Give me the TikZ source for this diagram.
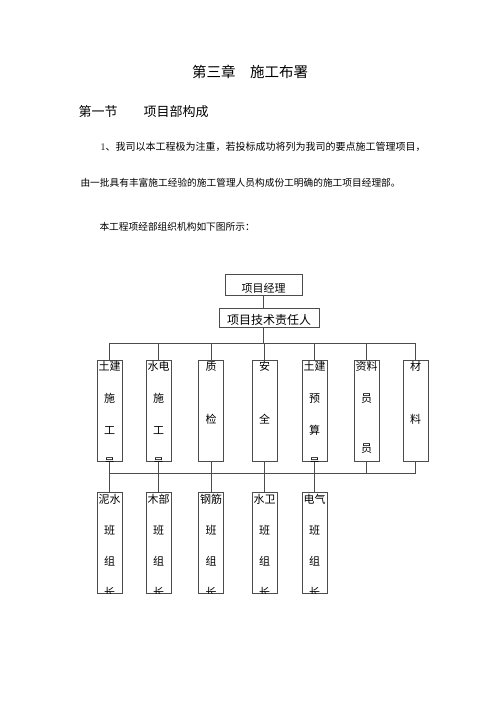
\documentclass[tikz,border=0pt]{standalone}
\usepackage{fontspec}
\newfontfamily\cjk{Noto Sans CJK SC}

\begin{document}
\begin{tikzpicture}[x=1pt,y=-1pt,
  orgline/.style={draw=black!70,line width=0.8pt},
  box/.style={orgline,inner sep=0pt},
  col/.style={box,minimum width=25pt,minimum height=101pt},
  coltext/.style={inner sep=0pt,anchor=north,align=center,font=\cjk\fontsize{11}{32}\selectfont},
  grptext/.style={coltext,font=\cjk\fontsize{11}{31}\selectfont}]
  \useasboundingbox (0,0) rectangle (500,707);

  % headings and text
  \node[font=\cjk\fontsize{14.5}{16}\selectfont] (title) at (250,72) {第三章\hspace{1em}施工布署};
  \node[anchor=west,font=\cjk\fontsize{13}{15}\selectfont] (sec) at (75,112) {第一节\hspace{2em}项目部构成};
  \node[anchor=west,font=\cjk\fontsize{10}{12}\selectfont] (p1) at (97,147) {{\rmfamily 1}、我司以本工程极为注重，若投标成功将列为我司的要点施工管理项目，};
  \node[anchor=west,font=\cjk\fontsize{9.7}{12}\selectfont] (p2) at (77,183) {由一批具有丰富施工经验的施工管理人员构成份工明确的施工项目经理部。};
  \node[anchor=west,font=\cjk\fontsize{9.7}{12}\selectfont] (p3) at (96,227) {本工程项经部组织机构如下图所示：};

  % top boxes
  \node[box,minimum width=77pt,minimum height=21pt,text height=16pt,text depth=0.6pt,font=\cjk\fontsize{11}{13}\selectfont] (pm) at (263.5,284.5) {项目经理};
  \node[box,minimum width=100pt,minimum height=19pt,text height=14.5pt,text depth=0.3pt,font=\cjk\fontsize{12}{14}\selectfont] (tech) at (269,317.5) {项目技术责任人};

  % first row
  \node[col] (c1) at (109.5,410.5) {};
  \node[col] (c2) at (158.5,410.5) {};
  \node[col] (c3) at (211,410.5) {};
  \node[col] (c4) at (264.5,410.5) {};
  \node[col] (c5) at (314.5,410.5) {};
  \node[col] (c6) at (366.5,410.5) {};
  \node[col] (c7) at (415.5,410.5) {};

  % second row
  \node[col] (d1) at (109.5,542.5) {};
  \node[col] (d2) at (158.5,542.5) {};
  \node[col] (d3) at (211,542.5) {};
  \node[col] (d4) at (264.5,542.5) {};
  \node[col] (d5) at (314.5,542.5) {};

  \coordinate (bus) at (264,343);
  \coordinate (bus2) at (264,473);

  % connectors
  \draw[orgline] (pm.south) -- (pm.south |- tech.north);
  \draw[orgline] (pm.south |- tech.south) -- (pm.south |- bus);
  \draw[orgline] (c1.north |- bus) -- (c7.north |- bus);
  \draw[orgline] (c1.north) -- (c1.north |- bus) (c2.north) -- (c2.north |- bus)
    (c3.north) -- (c3.north |- bus) (c4.north) -- (c4.north |- bus)
    (c5.north) -- (c5.north |- bus) (c6.north) -- (c6.north |- bus)
    (c7.north) -- (c7.north |- bus);
  \draw[orgline] (c1.south |- bus2) -- (c7.south |- bus2);
  \draw[orgline] (c1.south) -- (c1.south |- bus2) (c2.south) -- (c2.south |- bus2)
    (c3.south) -- (c3.south |- bus2) (c4.south) -- (c4.south |- bus2)
    (c5.south) -- (c5.south |- bus2) (c6.south) -- (c6.south |- bus2)
    (c7.south) -- (c7.south |- bus2);
  \draw[orgline] (d1.north) -- (d1.north |- bus2) (d2.north) -- (d2.north |- bus2)
    (d3.north) -- (d3.north |- bus2) (d4.north) -- (d4.north |- bus2)
    (d5.north) -- (d5.north |- bus2);

  % box texts, cut off at the box edges
  \begin{scope}
    \clip (c1.south west) rectangle (c1.north east) (c2.south west) rectangle (c2.north east)
      (c3.south west) rectangle (c3.north east) (c4.south west) rectangle (c4.north east)
      (c5.south west) rectangle (c5.north east) (c6.south west) rectangle (c6.north east)
      (c7.south west) rectangle (c7.north east)
      (d1.south west) rectangle (d1.north east) (d2.south west) rectangle (d2.north east)
      (d3.south west) rectangle (d3.north east) (d4.south west) rectangle (d4.north east)
      (d5.south west) rectangle (d5.north east);
    \node[coltext] (t1) at ([yshift=-1.5pt]c1.north) {土建\\施\\工\\员};
    \node[coltext] (t2) at ([yshift=-1.5pt]c2.north) {水电\\施\\工\\员};
    \node[coltext] (t3) at ([yshift=-1.5pt]c3.north) {质\\[21pt]检};
    \node[coltext] (t4) at ([yshift=-1.5pt]c4.north) {安\\[21pt]全};
    \node[coltext] (t5) at ([yshift=-1.5pt]c5.north) {土建\\预\\算\\员};
    \node[coltext] (t6) at ([yshift=-1.5pt]c6.north) {资料\\员\\[18pt]员};
    \node[coltext] (t7) at ([yshift=-1.5pt]c7.north) {材\\[21pt]料};
    \node[grptext] (u1) at ([yshift=-2.5pt]d1.north) {泥水\\班\\组\\长};
    \node[grptext] (u2) at ([yshift=-2.5pt]d2.north) {木部\\班\\组\\长};
    \node[grptext] (u3) at ([yshift=-2.5pt]d3.north) {钢筋\\班\\组\\长};
    \node[grptext] (u4) at ([yshift=-2.5pt]d4.north) {水卫\\班\\组\\长};
    \node[grptext] (u5) at ([yshift=-2.5pt]d5.north) {电气\\班\\组\\长};
  \end{scope}
\end{tikzpicture}
\end{document}
